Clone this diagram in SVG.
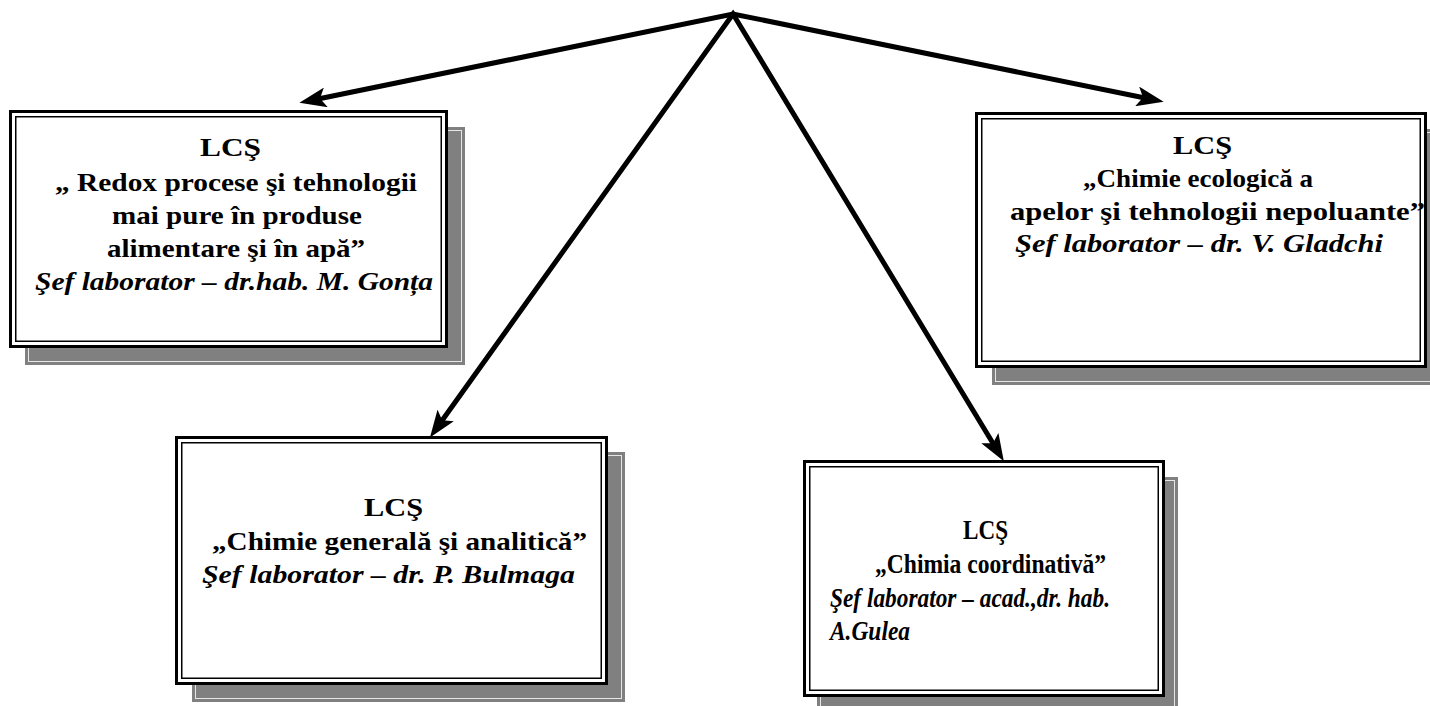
<svg xmlns="http://www.w3.org/2000/svg" width="1430" height="706" viewBox="0 0 1430 706">
<defs>
<style>
.shadow{fill:#808080;}
.shline{fill:none;stroke:#e6e6e6;stroke-width:1;}
.outer{fill:#ffffff;stroke:#000;stroke-width:3;}
.inner{fill:none;stroke:#000;stroke-width:1.5;}
.t{font-family:"Liberation Serif","Times New Roman",serif;font-weight:bold;font-size:26px;fill:#000;}
.big{font-size:28px;}
.i{font-style:italic;}
.conn{fill:none;stroke:#000;stroke-width:5;stroke-linejoin:miter;stroke-miterlimit:20;}
</style>
<marker id="ah" markerUnits="userSpaceOnUse" markerWidth="28" markerHeight="20" viewBox="0 0 28 20" refX="8" refY="10" orient="auto-start-reverse">
<path d="M0,0 L27,10 L0,20 L6,10 z" fill="#000"/>
</marker>
</defs>
<rect width="1430" height="706" fill="#fff"/>

<g id="node1">
<rect class="shadow" x="25" y="127" width="440" height="238"/>
<rect class="shline" x="28.5" y="130.5" width="433" height="231"/>
<rect class="outer" x="10.5" y="111.5" width="436" height="235"/>
<rect class="inner" x="15.75" y="116.75" width="425.5" height="224.5"/>
<text class="t" x="200" y="156" textLength="61" lengthAdjust="spacingAndGlyphs">LCŞ</text>
<text class="t" x="55" y="191" textLength="362" lengthAdjust="spacingAndGlyphs">„ Redox procese şi tehnologii</text>
<text class="t" x="112" y="224" textLength="250" lengthAdjust="spacingAndGlyphs">mai pure în produse</text>
<text class="t" x="107" y="257" textLength="258" lengthAdjust="spacingAndGlyphs">alimentare şi în apă”</text>
<text class="t i" x="35" y="290" textLength="398" lengthAdjust="spacingAndGlyphs">Şef laborator – dr.hab. M. Gonța</text>
</g>

<g id="node2">
<rect class="shadow" x="992" y="129" width="452" height="256"/>
<rect class="shline" x="995.5" y="132.5" width="445" height="249"/>
<rect class="outer" x="976.5" y="113.5" width="449" height="253"/>
<rect class="inner" x="981.75" y="118.75" width="438.5" height="242.5"/>
<text class="t" x="1173" y="154" textLength="59" lengthAdjust="spacingAndGlyphs">LCŞ</text>
<text class="t" x="1083" y="187" textLength="230" lengthAdjust="spacingAndGlyphs">„Chimie ecologică a</text>
<text class="t" x="1010" y="220" textLength="415" lengthAdjust="spacingAndGlyphs">apelor şi tehnologii nepoluante”</text>
<text class="t i" x="1015" y="252" textLength="368" lengthAdjust="spacingAndGlyphs">Şef laborator –  dr. V. Gladchi</text>
</g>

<g id="node3">
<rect class="shadow" x="192" y="452" width="433" height="250"/>
<rect class="shline" x="195.5" y="455.5" width="426" height="243"/>
<rect class="outer" x="176.5" y="437.5" width="430" height="246"/>
<rect class="inner" x="181.75" y="442.75" width="419.5" height="235.5"/>
<text class="t" x="364" y="516" textLength="59" lengthAdjust="spacingAndGlyphs">LCŞ</text>
<text class="t" x="212" y="550" textLength="375" lengthAdjust="spacingAndGlyphs">„Chimie generală şi analitică”</text>
<text class="t i" x="202" y="583" textLength="373" lengthAdjust="spacingAndGlyphs">Şef laborator – dr. P. Bulmaga</text>
</g>

<g id="node4">
<rect class="shadow" x="817" y="477" width="361" height="240"/>
<rect class="shline" x="820.5" y="480.5" width="354" height="233"/>
<rect class="outer" x="804.5" y="461.5" width="359" height="234"/>
<rect class="inner" x="809.75" y="466.75" width="348.5" height="223.5"/>
<text class="t big" x="963" y="539" textLength="45" lengthAdjust="spacingAndGlyphs">LCŞ</text>
<text class="t big" x="875" y="573" textLength="231" lengthAdjust="spacingAndGlyphs">„Chimia coordinativă”</text>
<text class="t big i" x="830" y="607" textLength="280" lengthAdjust="spacingAndGlyphs">Şef laborator – acad.,dr. hab.</text>
<text class="t big i" x="830" y="640" textLength="80" lengthAdjust="spacingAndGlyphs">A.Gulea</text>
</g>

<g id="connectors">
<path class="conn" d="M318,99 L733,14 L1145,98" marker-start="url(#ah)" marker-end="url(#ah)"/>
<path class="conn" d="M441,422 L733,14 L994,445" marker-start="url(#ah)" marker-end="url(#ah)"/>
</g>
</svg>
